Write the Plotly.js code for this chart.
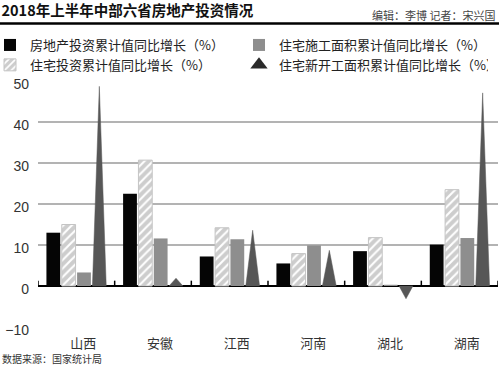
<!DOCTYPE html>
<html>
<head>
<meta charset="utf-8">
<script src="https://cdn.plot.ly/plotly-3.0.1.min.js"></script>
<style>
  html, body { margin: 0; padding: 0; background: #fff; }
  #chart { width: 499px; height: 366px; }
</style>
</head>
<body>
<div id="chart"></div>
<script>
// ---- data ----
const categories = ['山西', '安徽', '江西', '河南', '湖北', '湖南'];
const realEstateInvest = [13.0, 22.5, 7.2, 5.5, 8.5, 10.1];      // 房地产投资累计值同比增长
const residentialInvest = [15.0, 30.7, 14.2, 7.9, 11.8, 23.5];   // 住宅投资累计值同比增长
const residentialUnderConstr = [3.3, 11.6, 11.4, 9.9, 0.3, 11.7]; // 住宅施工面积累计值同比增长
const residentialNewStarts = [48.7, 1.9, 13.6, 8.7, -3.1, 47.1];  // 住宅新开工面积累计值同比增长
const seriesNames = [
  '房地产投资累计值同比增长（%）',
  '住宅投资累计值同比增长（%）',
  '住宅施工面积累计值同比增长（%）',
  '住宅新开工面积累计值同比增长（%）'
];
const yTicks = [-10, 0, 10, 20, 30, 40, 50];

// ---- layout helpers ----
const W = 499, H = 366;
const M = { l: 38, r: 1, t: 81, b: 39 };
const PW = W - M.l - M.r, PH = H - M.t - M.b;
const px2x = p => (p - M.l) / PW;
const px2y = p => (H - M.b - p) / PH;

const barW = 0.18;
const offsets = [-0.3, -0.1, 0.1, 0.3];
const idx = categories.map((_, i) => i);
const cjk = '"Noto Sans CJK SC", "Noto Sans", sans-serif';

function barTrace(vals, k, name, marker) {
  return {
    type: 'bar', name: name,
    x: idx.map(i => i + offsets[k]), y: vals,
    width: barW, marker: marker,
    hoverinfo: 'y'
  };
}

// triangles built from data values
const triX = [], triY = [];
residentialNewStarts.forEach((v, i) => {
  const c = i + offsets[3];
  triX.push(c - barW / 2, c, c + barW / 2, c - barW / 2, null);
  triY.push(0, v, 0, 0, null);
});

const traces = [
  barTrace(realEstateInvest, 0, seriesNames[0], { color: '#050505' }),
  barTrace(residentialUnderConstr, 2, seriesNames[2], { color: '#8e8e8e' }),
  barTrace(residentialInvest, 1, seriesNames[1], {
    color: '#cdcdcd',
    line: { color: '#c4c4c4', width: 1 },
    pattern: { shape: '/', fgcolor: '#ffffff', bgcolor: '#cdcdcd', size: 6, solidity: 0.35, fillmode: 'replace' }
  }),
  { type: 'scatter', mode: 'markers', name: seriesNames[3], x: [null], y: [null],
    marker: { symbol: 'triangle-up', color: '#2a2a2a', size: 15 } },
  { type: 'scatter', mode: 'lines', x: triX, y: triY, fill: 'toself', fillcolor: '#575757',
    line: { color: '#575757', width: 0.5 }, showlegend: false, hoverinfo: 'skip' }
];

const shapes = [
  { type: 'line', xref: 'paper', yref: 'paper', x0: px2x(0), x1: px2x(W), y0: px2y(23.5), y1: px2y(23.5),
    line: { color: '#000', width: 2.5 } }
];
for (let i = 0; i <= categories.length; i++) {
  shapes.push({ type: 'line', xref: 'x', yref: 'y', x0: i - 0.5, x1: i - 0.5, y0: 0, y1: 1.3,
    line: { color: '#000', width: 1.5 } });
}

const layout = {
  width: W, height: H,
  margin: { l: M.l, r: M.r, t: M.t, b: M.b, autoexpand: false },
  paper_bgcolor: '#fff', plot_bgcolor: '#fff',
  font: { family: cjk, color: '#222' },
  title: {
    text: '<b>2018年上半年中部六省房地产投资情况</b>',
    xref: 'container', yref: 'container', x: 0.003, xanchor: 'left', y: 1 - 11 / H, yanchor: 'middle',
    font: { family: cjk, size: 14.5, color: '#111' }
  },
  showlegend: true,
  legend: {
    orientation: 'h', x: px2x(-10), xanchor: 'left', y: px2y(30), yanchor: 'top',
    entrywidth: 204, entrywidthmode: 'pixels',
    font: { family: cjk, size: 13, color: '#222' },
    bgcolor: 'rgba(0,0,0,0)', traceorder: 'normal'
  },
  xaxis: {
    range: [-0.5, categories.length - 0.5],
    tickvals: idx, ticktext: categories,
    showgrid: false, zeroline: false, showline: false, ticks: '',
    tickfont: { family: cjk, size: 13, color: '#333' },
    ticklabelshift: 7, ticklabelstandoff: 7, fixedrange: true
  },
  yaxis: {
    range: [-10, 50], tickvals: yTicks,
    showgrid: true, gridcolor: '#b3b3b3', gridwidth: 1.5,
    zeroline: true, zerolinecolor: '#000', zerolinewidth: 2,
    showline: false, ticks: '',
    tickfont: { family: '"Liberation Sans", Arial, sans-serif', size: 14, color: '#333' },
    ticklabelshift: 3, ticklabelstandoff: 8, fixedrange: true
  },
  shapes: shapes,
  annotations: [
    { text: '编辑：李博 记者：宋兴国', xref: 'paper', yref: 'paper', x: px2x(497), y: px2y(15),
      xanchor: 'right', yanchor: 'middle', showarrow: false,
      font: { family: cjk, size: 11, color: '#444' } },
    { text: '数据来源：国家统计局', xref: 'paper', yref: 'paper', x: px2x(0), y: px2y(358),
      xanchor: 'left', yanchor: 'middle', showarrow: false,
      font: { family: cjk, size: 10, color: '#333' } }
  ]
};

Plotly.newPlot('chart', traces, layout, { displayModeBar: false, staticPlot: true });
</script>
</body>
</html>
